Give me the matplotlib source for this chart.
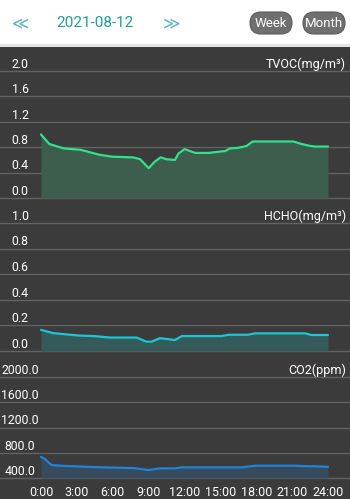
import matplotlib
matplotlib.use("Agg")
import matplotlib.pyplot as plt
from matplotlib.patches import FancyBboxPatch, Rectangle

plt.rcParams['font.family'] = ['Roboto', 'DejaVu Sans']

# data (hours of the day -> value)
tvoc_hours = [0, 0.7, 1.4, 1.9, 3.3, 4.1, 4.9, 6.0, 7.7, 8.3, 8.6, 9.0, 9.5, 10.0,
              10.5, 11.2, 11.5, 12.0, 12.9, 14.0, 15.4, 15.8, 16.5, 17.2, 17.7,
              21.1, 21.8, 22.5, 22.9, 24]
tvoc = [1.0, 0.85, 0.81, 0.78, 0.76, 0.72, 0.68, 0.65, 0.64, 0.61, 0.55, 0.47,
        0.57, 0.64, 0.61, 0.60, 0.70, 0.77, 0.71, 0.71, 0.74, 0.78, 0.79, 0.82,
        0.89, 0.89, 0.85, 0.82, 0.81, 0.81]

hcho_hours = [0, 1.0, 2.1, 3.3, 4.4, 5.8, 8.0, 8.8, 9.25, 9.95, 11.2, 11.8, 15.1,
              15.7, 17.3, 17.9, 22.1, 22.6, 24]
hcho = [0.165, 0.14, 0.13, 0.12, 0.117, 0.105, 0.105, 0.073, 0.073, 0.10, 0.086,
        0.117, 0.117, 0.127, 0.127, 0.138, 0.138, 0.125, 0.125]

co2_hours = [0, 0.33, 0.6, 0.9, 2.1, 4.9, 7.7, 9.0, 9.95, 11.2, 11.8, 16.8, 17.9,
             21.2, 24]
co2 = [735, 700, 650, 605, 590, 570, 558, 526, 553, 553, 569, 569, 594, 594, 578]

tvoc_ticks = [0.0, 0.4, 0.8, 1.2, 1.6, 2.0]
hcho_ticks = [0.0, 0.2, 0.4, 0.6, 0.8, 1.0]
co2_ticks = [400, 800, 1200, 1600, 2000]
x_ticks = [0, 3, 6, 9, 12, 15, 18, 21, 24]
x_labels = ['0:00', '3:00', '6:00', '9:00', '12:00', '15:00', '18:00', '21:00', '24:00']

W, H = 350, 499
BG = '#3b3b3b'
GRID = '#626262'
fig = plt.figure(figsize=(W / 100, H / 100), dpi=100, facecolor='white')

# base layer in pixel coordinates: header + dark background
base = fig.add_axes([0, 0, 1, 1])
base.set_xlim(0, W)
base.set_ylim(H, 0)
base.axis('off')
base.add_patch(Rectangle((0, 44), W, 3, color='#e4e4e4', lw=0))
base.add_patch(Rectangle((0, 47), W, H - 47, color=BG, lw=0))
teal = '#1e9c9e'
base.text(20, 23, '≪', color='#5ab4bb', fontsize=12, ha='center', va='center',
          family=['DejaVu Sans'])
base.text(171, 23, '≫', color='#5ab4bb', fontsize=12, ha='center', va='center',
          family=['DejaVu Sans'])
base.text(95, 23, '2021-08-12', color=teal, fontsize=11, ha='center', va='center')
for x0, x1, lab in [(250, 292, 'Week'), (303, 345, 'Month')]:
    base.add_patch(FancyBboxPatch((x0, 12), x1 - x0, 22,
                                  boxstyle='round,pad=0,rounding_size=11',
                                  fc='#707070', ec='#5a5a5a', lw=0.8))
    base.text((x0 + x1) / 2, 23.5, lab, color='white', fontsize=9.5,
              ha='center', va='center')

ppu = 287 / 24.0       # pixels per hour
x0_px = 41             # pixel of 0:00
xlim = (-x0_px / ppu, (W - x0_px) / ppu)
lab_x = (20 - x0_px) / ppu


def panel(top, bottom, ylim, ticks, fmt, title, hours, vals, line_c, fill_c, base_v):
    ax = fig.add_axes([0, 1 - bottom / H, 1, (bottom - top) / H])
    ax.set_facecolor('none')
    ax.set_xlim(*xlim)
    ax.set_ylim(*ylim)
    for s in ax.spines.values():
        s.set_visible(False)
    ax.set_xticks([])
    ax.set_yticks(ticks)
    ax.set_yticklabels([])
    ax.tick_params(axis='y', length=0)
    ax.grid(axis='y', color=GRID, lw=1.0)
    ax.set_axisbelow(True)
    for t in ticks:
        ax.annotate(fmt.format(t), (lab_x, t), xytext=(0, 2.3), textcoords='offset points',
                    ha='center', va='baseline', color='white', fontsize=8.8)
    ax.annotate(title, (xlim[1], ticks[-1]), xytext=(-3, 2.3), textcoords='offset points',
                ha='right', va='baseline', color='white', fontsize=9)
    ax.fill_between(hours, vals, base_v, color=fill_c, lw=0, zorder=2)
    ax.plot(hours, vals, color=line_c, lw=1.6, zorder=3, solid_capstyle='round')
    return ax


panel(47, 200, (-2 / 63.5, 151 / 63.5), tvoc_ticks, '{:.1f}', 'TVOC(mg/m³)',
      tvoc_hours, tvoc, '#2ee38c', '#3d5e4c', 0)
panel(200, 353, (-2 / 128, 151 / 128), hcho_ticks, '{:.1f}', 'HCHO(mg/m³)',
      hcho_hours, hcho, '#1cc6d6', '#355a5a', 0)
k = 101 / 1600.0
ax = panel(353, 480, (400 - 2 / k, 400 + 125 / k), co2_ticks, '{:.1f}', 'CO2(ppm)',
           co2_hours, co2, '#1f84d8', '#384b5c', 400)
ax.set_xticks(x_ticks)
ax.set_xticklabels(x_labels)
ax.tick_params(axis='x', length=0, pad=4.5, colors='white', labelsize=9)

fig.savefig('out.png', dpi=100, facecolor='white')
